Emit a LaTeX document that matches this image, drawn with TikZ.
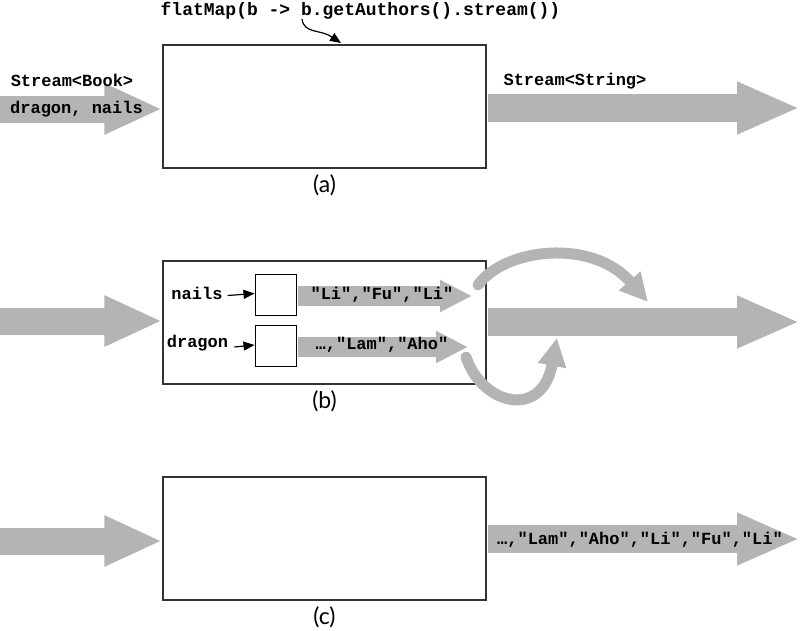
\documentclass[tikz,border=0pt]{standalone}
\usepackage{fontspec}
\usepackage{tikz}
\usetikzlibrary{arrows.meta,calc}
\newfontfamily\codefont{Liberation Mono}
\newfontfamily\labelfont{Lato}
\definecolor{streamgray}{HTML}{B4B4B4}
\definecolor{boxline}{HTML}{333333}

\begin{document}
\begin{tikzpicture}[x=1pt, y=-1pt,
  stage/.style={draw=boxline, line width=1.4pt, minimum width=323pt, minimum height=123pt, inner sep=0pt},
  fnbox/.style={draw=black, line width=1pt, minimum size=41pt, inner sep=0pt},
  code/.style={font=\codefont\bfseries\fontsize{17}{20}\selectfont, inner sep=0pt},
  caption/.style={font=\labelfont\fontsize{23}{26}\selectfont, inner sep=0pt},
  flow/.style={streamgray, line width=28pt, -{Triangle[length=63pt,width=48pt]}},
  inflow/.style={streamgray, line width=27pt, -{Triangle[length=58pt,width=47pt]}},
  subflow/.style={streamgray, line width=20pt, -{Triangle[length=32pt,width=30pt]}},
  merge/.style={streamgray, line width=11pt, line cap=round, -{Triangle[length=28pt,width=27pt]}},
  pointer/.style={black, line width=1.2pt, -{Triangle[length=11pt,width=9pt]}},
]
\useasboundingbox (0,0) rectangle (801,630);

% (a) the flatMap stage
\node[stage] (boxa) at (324.5,106.5) {};
\node[caption] (capa) at (324.5,185) {(a)};
\node[code, font=\codefont\bfseries\fontsize{18}{20}\selectfont] (fm) at (360.5,11) {flatMap(b -> b.getAuthors().stream())};
\coordinate (lam) at (302,19);
\coordinate (lamtip) at (341,43);
\draw[pointer] (lam) .. controls (304,34) and (320,29) .. (lamtip);

\coordinate (ina) at (0,109);
\draw[inflow] (ina) -- (boxa.west |- ina);
\node[code] (booka) at (72,80) {Stream<Book>};
\node[code] (itemsa) at (76.5,109) {dragon, nails};

\coordinate (outa) at (488,108);
\coordinate (enda) at (800,108);
\draw[flow] (outa) -- (enda);
\node[code] (stra) at (575,81) {Stream<String>};

% (b) one stream per book, merged into one
\node[stage] (boxb) at (324.5,322.5) {};
\node[caption] (capb) at (324.5,401) {(b)};
\coordinate (inb) at (0,321);
\draw[inflow] (inb) -- (boxb.west |- inb);

\node[fnbox] (nailsbox) at (275.5,294.5) {};
\node[fnbox] (dragonbox) at (275.5,346) {};
\node[code] (nails) at (197,293) {nails};
\node[code] (dragon) at (197.5,343) {dragon};
\draw[pointer] ([xshift=5pt]nails.east |- nailsbox.west) ++(0,1) -- ([yshift=1pt]nailsbox.west);
\draw[pointer] ([xshift=6pt]dragon.east |- dragonbox.west) ++(0,1) -- ([yshift=1pt]dragonbox.west);

\coordinate (endn) at (472,296);
\coordinate (endd) at (468,347);
\draw[subflow] ([xshift=1pt]nailsbox.east |- endn) -- (endn);
\draw[subflow] ([xshift=1pt]dragonbox.east |- endd) -- (endd);
\node[code] (namesn) at (382,295) {"Li","Fu","Li"};
\node[code] (namesd) at (382,345) {…,"Lam","Aho"};

\coordinate (outb) at (488,322);
\coordinate (endb) at (800,322);
\draw[flow] (outb) -- (endb);

\coordinate (upfrom) at (478,285);
\coordinate (upto) at (648,302);
\coordinate (lowfrom) at (466,357);
\coordinate (lowto) at (557,338);
\draw[merge] (upfrom) .. controls (505,248) and (592,238) .. (upto);
\draw[merge] (lowfrom) .. controls (482,405) and (542,420) .. (lowto);

% (c) the flattened stream
\node[stage] (boxc) at (324.5,538.5) {};
\node[caption] (capc) at (324.5,617) {(c)};
\coordinate (inc) at (0,541);
\draw[inflow] (inc) -- (boxc.west |- inc);

\coordinate (outc) at (488,539);
\coordinate (endc) at (800,539);
\draw[flow] (outc) -- (endc);
\node[code] (namesc) at (640,540) {…,"Lam","Aho","Li","Fu","Li"};
\end{tikzpicture}
\end{document}
